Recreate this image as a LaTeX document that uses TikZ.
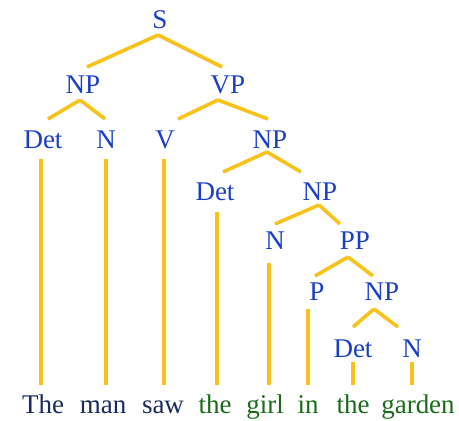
\documentclass[tikz,border=0pt]{standalone}
\usepackage{fontspec}
\setmainfont{Liberation Serif}
\usetikzlibrary{calc}
\definecolor{catblue}{HTML}{1A3EC8}
\definecolor{wordnavy}{HTML}{1A2A5A}
\definecolor{wordgreen}{HTML}{1A6A1A}
\definecolor{branchgold}{HTML}{F8C21A}
\tikzset{
  cat/.style={anchor=base, inner sep=0pt, text=catblue, font=\fontsize{27}{27}\selectfont},
  word/.style={anchor=base, inner sep=0pt, font=\fontsize{27}{27}\selectfont},
  branch/.style={draw=branchgold, line width=3.6pt},
}
% \treeedge{from}{dx}{dy}{to}{dx}{dy}: a branch between two labels, offsets from their baselines
\newcommand\treeedge[6]{\draw[branch] ($(#1.base)+(#2,#3)$) -- ($(#4.base)+(#5,#6)$);}
\begin{document}
\begin{tikzpicture}[x=1pt,y=-1pt]
\useasboundingbox (0,0) rectangle (459,421);
% category labels
\node[cat] (S)    at (160,28)  {S};
\node[cat] (NP1)  at (83,93)   {NP};
\node[cat] (VP)   at (228,93)  {VP};
\node[cat] (Det1) at (43,148)  {Det};
\node[cat] (N1)   at (106,148) {N};
\node[cat] (V)    at (165,148) {V};
\node[cat] (NP2)  at (270,148) {NP};
\node[cat] (Det2) at (215,200) {Det};
\node[cat] (NP3)  at (320,200) {NP};
\node[cat] (N2)   at (275,249) {N};
\node[cat] (PP)   at (355,249) {PP};
\node[cat] (P)    at (317,300) {P};
\node[cat] (NP4)  at (382,300) {NP};
\node[cat] (Det3) at (353,357) {Det};
\node[cat] (N3)   at (412,357) {N};
% the sentence
\node[word, text=wordnavy]  (w1) at (43,413)  {The};
\node[word, text=wordnavy]  (w2) at (103,413) {man};
\node[word, text=wordnavy]  (w3) at (163,413) {saw};
\node[word, text=wordgreen] (w4) at (215,413) {the};
\node[word, text=wordgreen] (w5) at (265,413) {girl};
\node[word, text=wordgreen] (w6) at (308,413) {in};
\node[word, text=wordgreen] (w7) at (353,413) {the};
\node[word, text=wordgreen] (w8) at (418,413) {garden};
% branches
\treeedge{S}{-2}{7}{NP1}{4}{-26}
\treeedge{S}{-2}{7}{VP}{-6}{-26}
\treeedge{NP1}{-3}{7}{Det1}{5}{-29}
\treeedge{NP1}{-3}{7}{N1}{-1}{-29}
\treeedge{VP}{-10}{7}{V}{13}{-29}
\treeedge{VP}{-10}{7}{NP2}{-2}{-29}
\treeedge{NP2}{-3}{4}{Det2}{8}{-28}
\treeedge{NP2}{-3}{4}{NP3}{-19}{-28}
\treeedge{NP3}{-1}{5}{N2}{0}{-25}
\treeedge{NP3}{-1}{5}{PP}{-15}{-25}
\treeedge{PP}{-7}{8}{P}{-2}{-24}
\treeedge{PP}{-7}{8}{NP4}{-9}{-24}
\treeedge{NP4}{-8}{9}{Det3}{0}{-30}
\treeedge{NP4}{-8}{9}{N3}{-14}{-30}
% lexical links down to the words
\treeedge{Det1}{-2}{11}{w1}{-2}{-28}
\treeedge{N1}{0}{11}{w2}{3}{-28}
\treeedge{V}{-1}{11}{w3}{1}{-28}
\treeedge{Det2}{2}{12}{w4}{2}{-28}
\treeedge{N2}{-6}{14}{w5}{4}{-28}
\treeedge{P}{-9}{9}{w6}{0}{-28}
\treeedge{Det3}{0}{5}{w7}{0}{-28}
\treeedge{N3}{0}{5}{w8}{-6}{-28}
\end{tikzpicture}
\end{document}
